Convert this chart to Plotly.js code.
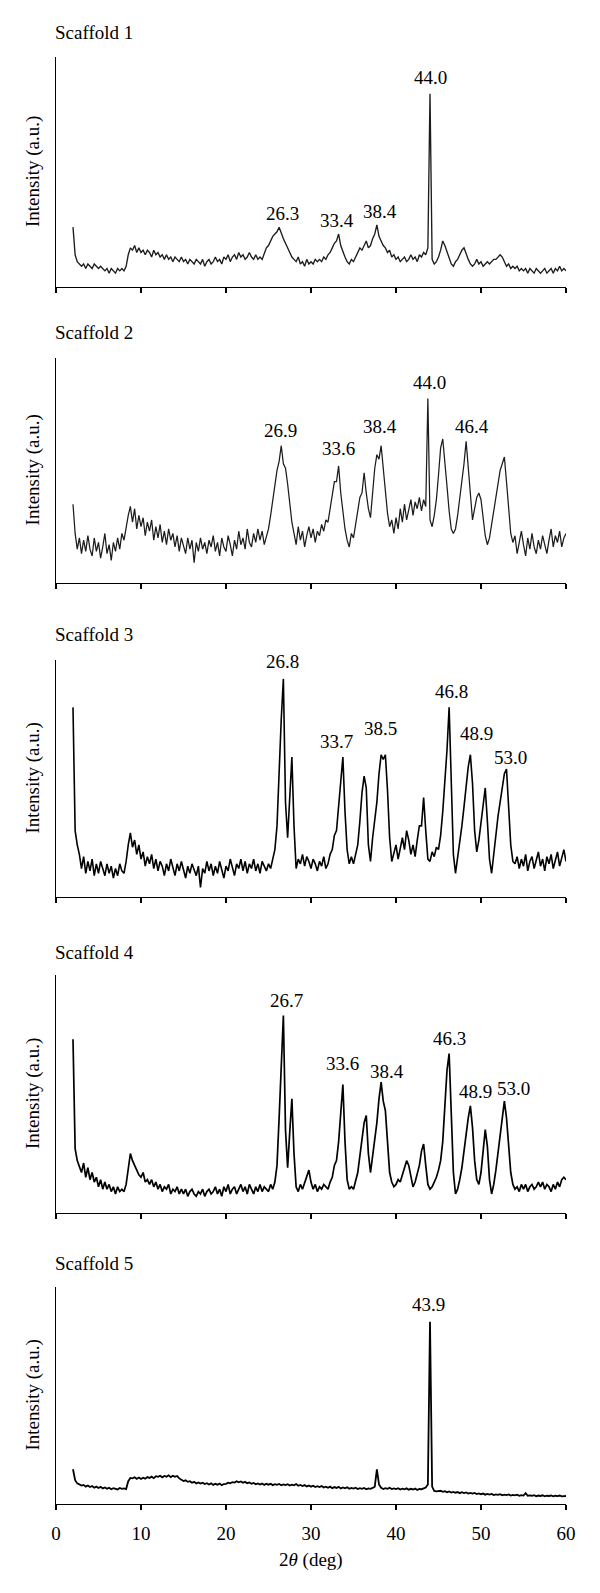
<!DOCTYPE html>
<html>
<head>
<meta charset="utf-8">
<script src="https://cdn.plot.ly/plotly-3.0.1.min.js"></script>
<style>
html,body{margin:0;padding:0;background:#fff;}
#chart{width:600px;height:1593px;}
</style>
</head>
<body>
<div id="chart"></div>
<script>
// 2-theta sampling: start 2 deg, step 0.25 deg (applied through Plotly's x0/dx)
const THETA_START = 2;
const THETA_STEP = 0.25;

// Intensities (a.u., % of panel height), 4 values per degree from 2 to 60
const scaffold1 = [
26,14,11,10, 9,10,8,10, 9,8,10,9, 8,9,8,7, 8,6,8,7, 6,8,7,8, 7,9,14,17, 16,18,15,17,
15,16,14,16, 15,13,16,14, 15,13,14,12, 14,12,13,11, 13,12,11,13, 11,12,10,12, 11,10,12,11,
10,12,9,11, 12,10,11,13, 11,12,10,13, 12,14,11,13, 14,12,15,13, 14,12,13,15, 13,12,14,12,
13,12,15,17, 18,20,22,23, 24,26,23,21, 19,17,15,13, 12,11,13,10, 11,9,12,10, 11,10,12,11,
12,11,13,12, 14,15,17,19, 20,23,18,15, 13,11,10,12, 11,13,15,17, 16,18,20,17, 18,21,23,27,
22,20,18,17, 15,16,13,14, 12,13,11,12, 13,11,12,14, 12,13,11,14, 13,15,14,17, 84,12,10,11,
13,16,20,18, 15,12,10,9, 11,12,14,16, 17,14,12,10, 9,10,12,10, 11,9,10,11, 10,11,12,12,
13,14,13,11, 9,10,8,9, 8,9,7,8, 7,8,6,8, 7,6,8,7, 6,7,8,6, 7,8,6,8, 7,9,7,8, 7];

const scaffold2 = [
35,22,15,20, 13,19,14,21, 15,12,20,14, 18,11,16,22, 13,17,10,18, 14,20,15,22, 19,25,30,34, 27,33,24,30,
25,29,21,27, 23,28,19,25, 20,26,18,23, 17,24,19,22, 16,21,14,20, 17,13,20,15, 19,9,18,14,
20,15,18,13, 19,16,21,14, 18,12,20,16, 14,21,17,12, 19,15,23,17, 20,15,24,18, 16,22,18,24,
19,23,17,21, 24,30,37,45, 50,54,61,53, 51,44,35,27, 22,17,25,19, 23,16,21,25, 20,24,18,23,
21,26,23,28, 27,33,38,45, 45,52,40,31, 24,19,16,22, 20,26,32,38, 40,49,40,33, 29,40,51,57,
55,61,50,41, 31,25,28,22, 29,24,33,27, 35,28,32,37, 30,36,33,38, 32,37,34,82, 28,25,30,37,
48,60,64,55, 43,32,24,22, 24,30,37,45, 53,63,50,38, 28,33,38,40, 37,29,21,17, 20,26,32,38,
44,50,53,56, 45,32,22,18, 21,13,19,23, 17,12,20,15, 22,16,13,19, 15,21,17,13, 19,24,16,21,
18,23,16,20, 22];

const scaffold3 = [
80,28,22,18, 12,17,10,15, 11,16,9,14, 10,15,12,9, 14,10,13,8, 12,9,14,11, 10,15,22,27, 21,24,18,22,
16,19,13,17, 14,18,12,16, 11,15,13,9, 14,11,16,12, 9,14,11,15, 12,8,13,10, 14,11,9,13,
4,12,10,15, 11,14,9,13, 10,15,12,8, 13,11,16,12, 9,14,12,16, 11,15,10,14, 12,16,11,14,
10,15,13,11, 14,12,16,20, 30,55,75,92, 40,25,45,59, 30,12,16,14, 18,13,17,15, 12,16,14,11,
15,13,17,12, 14,18,20,26, 28,38,50,59, 36,20,14,17, 14,18,22,32, 44,51,46,22, 15,25,32,40,
52,60,58,60, 45,25,15,18, 22,16,21,25, 20,28,24,18, 22,17,24,30, 30,42,28,16, 15,19,17,21,
20,26,36,48, 62,80,45,18, 10,16,22,30, 38,47,55,60, 48,28,19,24, 32,40,46,32, 16,10,18,28,
34,40,47,52, 54,38,22,15, 14,17,12,16, 13,18,11,15, 17,12,15,19, 13,16,11,17, 14,18,12,16,
19,13,17,20, 15];

const scaffold4 = [
73,27,22,19, 17,21,15,19, 14,17,13,15, 11,14,10,13, 10,12,9,11, 8,11,9,10, 9,12,18,25, 22,20,18,16,
15,17,13,14, 12,14,11,13, 10,12,9,11, 10,12,8,10, 9,11,8,10, 8,10,7,9, 10,8,7,9,
8,10,7,9, 10,8,9,11, 8,10,7,11, 9,12,8,10, 11,8,10,12, 9,11,8,12, 10,8,11,9,
12,9,11,10, 9,12,10,13, 20,40,62,83, 35,19,34,48, 25,11,9,12, 10,13,16,18, 13,10,12,9,
11,10,12,11, 10,13,15,20, 22,30,42,54, 30,14,10,11, 10,13,17,24, 32,38,41,25, 17,24,30,38,
48,55,47,43, 30,17,13,11, 12,14,13,16, 18,22,20,15, 11,13,16,20, 26,29,20,12, 10,11,13,15,
18,22,30,45, 60,67,40,17, 8,10,14,19, 26,34,40,45, 36,22,14,12, 17,26,35,28, 14,8,12,18,
25,34,41,47, 40,27,17,12, 10,11,9,12, 10,12,9,11, 12,10,11,13, 11,13,10,12, 11,9,12,10,
13,11,14,15, 14];

const scaffold5 = [
16,11,9.5,9, 8.5,8.8,8,8.5, 7.8,8.3,7.5,8, 7.4,7.9,7.2,7.6, 7,7.5,6.8,7.3, 7.1,6.7,7.4,7, 7.2,6.9,10.5,12, 11.8,12.3,11.6,12.2,
11.5,12.1,11.7,12.4, 12,12.6,11.9,12.8, 12.5,13,12.3,12.9, 12.6,13.2,12.4,13, 12.5,12.9,11.8,11.2, 10.6,10.9,10.2,10.5, 9.8,10.2,9.5,9.9,
9.4,9.8,9.2,9.6, 9,9.5,8.8,9.3, 8.9,9.4,8.7,9.2, 9.3,9.8,9.5,10.1, 9.9,10.5,10,10.4, 9.8,10.2,9.6,9.9, 9.3,9.7,9.1,9.5,
9,9.4,8.8,9.3, 8.9,9.3,8.7,9.1, 8.8,9.2,8.6,9, 8.7,9.1,8.5,8.9, 8.6,9.2,8.4,8.8, 8.3,8.7,8.1,8.5, 8,8.4,7.8,8.2,
7.8,8.3,7.6,8, 7.5,8,7.3,7.8, 7.4,7.9,7.2,7.6, 7.2,7.7,7,7.4, 7.1,7.5,6.9,7.3, 7,7.4,6.8,7.2, 7,7.4,8,16,
9,7.5,6.9,7.3, 7,7.5,6.9,7.2, 6.9,7.3,6.7,7.1, 6.8,7.2,6.6,7, 6.7,7.1,6.5,6.9, 6.8,7.2,7.6,9, 84,8,6,5.8,
5.8,6.1,5.6,5.9, 5.4,5.8,5.3,5.6, 5.2,5.5,5,5.4, 5,5.3,4.8,5.1, 4.8,5.1,4.6,4.9, 4.5,4.8,4.3,4.6, 4.3,4.6,4.1,4.4,
4.2,4.5,4,4.3, 4.1,4.4,3.9,4.2, 4,4.3,3.8,4.1, 3.9,5,3.8,4, 3.8,4.1,3.6,3.9, 3.7,4,3.5,3.8, 3.7,3.9,3.5,3.8,
3.6,3.9,3.5,3.7, 3.7];

const panelNames = ['Scaffold 1','Scaffold 2','Scaffold 3','Scaffold 4','Scaffold 5'];

// peak labels: text, 2-theta position of label, intensity level of label
const peakText1 = ['26.3','33.4','38.4','44.0'];
const peakX1 = [26.7, 33.1, 38.1, 44.1];
const peakY1 = [32, 29, 33, 91];
const peakText2 = ['26.9','33.6','38.4','44.0','46.4'];
const peakX2 = [26.4, 33.2, 38.1, 43.9, 48.9];
const peakY2 = [67.7, 59.7, 69.6, 88.9, 69.6];
const peakText3 = ['26.8','33.7','38.5','46.8','48.9','53.0'];
const peakX3 = [26.7, 33.0, 38.2, 46.5, 49.5, 53.5];
const peakY3 = [99.3, 65.5, 71.1, 86.9, 69, 58.7];
const peakText4 = ['26.7','33.6','38.4','46.3','48.9','53.0'];
const peakX4 = [27.1, 33.7, 38.9, 46.3, 49.3, 53.8];
const peakY4 = [89.2, 62.9, 59.4, 73.4, 51, 52.4];
const peakText5 = ['43.9'];
const peakX5 = [43.8];
const peakY5 = [91.8];

const xTickVals = [0,10,20,30,40,50,60];
const xTitle = '2<i>θ</i> (deg)';
const yTitle = 'Intensity (a.u.)';

const series = [scaffold1, scaffold2, scaffold3, scaffold4, scaffold5];
const peakTexts = [peakText1, peakText2, peakText3, peakText4, peakText5];
const peakXs = [peakX1, peakX2, peakX3, peakX4, peakX5];
const peakYs = [peakY1, peakY2, peakY3, peakY4, peakY5];

const FONT = '"Liberation Serif", "DejaVu Serif", serif';
const FS = 19;
const lineColors = ['#1c1c1c','#1c1c1c','#000','#000','#000'];
const lineWidths = [1.35, 1.25, 1.6, 1.7, 1.8];

// panel domains (paper fractions), plot area 1504 px tall
const domains = [[0.8092,0.9621],[0.6124,0.7620],[0.4036,0.5612],[0.1935,0.3517],[0,0.1443]];
const titleY = [0.9787, 0.7786, 0.5778, 0.3670, 0.1602];

const traces = [];
const layout = {
  width: 600, height: 1593,
  margin: {l: 56, r: 34, t: 0, b: 89},
  paper_bgcolor: '#fff', plot_bgcolor: '#fff',
  showlegend: false,
  font: {family: FONT, size: FS, color: '#000'},
  annotations: []
};

for (let i = 0; i < 5; i++) {
  const n = i + 1;
  const xa = n === 1 ? 'x' : 'x' + n;
  const ya = n === 1 ? 'y' : 'y' + n;
  traces.push({
    type: 'scatter', mode: 'lines',
    x0: THETA_START, dx: THETA_STEP, y: series[i],
    xaxis: xa, yaxis: ya,
    line: {color: lineColors[i], width: lineWidths[i]},
    hoverinfo: 'skip'
  });
  layout[n === 1 ? 'xaxis' : 'xaxis' + n] = {
    anchor: ya, domain: [0, 1], range: [0, 60],
    showline: true, linecolor: '#000', linewidth: 1.3,
    ticks: 'outside', ticklen: 5, tickwidth: 1.2, tickcolor: '#000',
    tickvals: xTickVals, showticklabels: n === 5,
    ticklabelstandoff: 7,
    tickfont: {family: FONT, size: FS, color: '#000'},
    showgrid: false, zeroline: false, fixedrange: true
  };
  layout[n === 1 ? 'yaxis' : 'yaxis' + n] = {
    anchor: xa, domain: domains[i], range: [0, 100],
    showline: true, linecolor: '#000', linewidth: 1.3,
    ticks: '', showticklabels: false,
    showgrid: false, zeroline: false, fixedrange: true
  };
  layout.annotations.push({
    xref: 'paper', yref: 'paper', x: 0, y: titleY[i],
    xanchor: 'left', yanchor: 'middle', xshift: -3,
    text: panelNames[i], showarrow: false,
    font: {family: FONT, size: FS, color: '#000'}
  });
  layout.annotations.push({
    xref: 'paper', yref: 'paper', x: 0, y: (domains[i][0] + domains[i][1]) / 2,
    xanchor: 'center', yanchor: 'middle', xshift: -23, textangle: -90,
    text: yTitle, showarrow: false,
    font: {family: FONT, size: FS, color: '#000'}
  });
  for (let k = 0; k < peakTexts[i].length; k++) {
    layout.annotations.push({
      xref: xa, yref: ya, x: peakXs[i][k], y: peakYs[i][k],
      xanchor: 'center', yanchor: 'middle',
      text: peakTexts[i][k], showarrow: false,
      font: {family: FONT, size: FS, color: '#000'}
    });
  }
}
layout.annotations.push({
  xref: 'paper', yref: 'paper', x: 0.5, y: -0.0372,
  xanchor: 'center', yanchor: 'middle',
  text: xTitle, showarrow: false,
  font: {family: FONT, size: FS, color: '#000'}
});

Plotly.newPlot('chart', traces, layout, {displayModeBar: false, staticPlot: true});
</script>
</body>
</html>
